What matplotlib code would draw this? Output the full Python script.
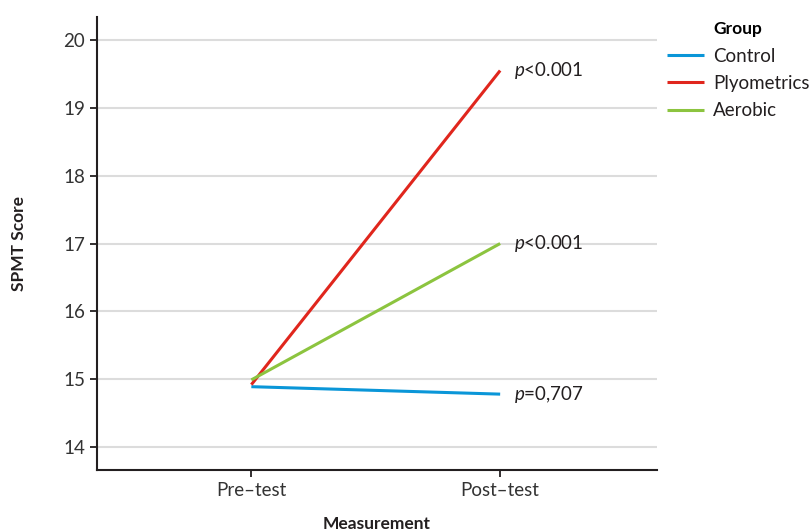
import matplotlib
matplotlib.use("Agg")
import matplotlib.pyplot as plt

plt.rcParams['font.family'] = ['Lato', 'DejaVu Sans']
plt.rcParams['mathtext.fontset'] = 'custom'
plt.rcParams['mathtext.rm'] = 'Lato'
plt.rcParams['mathtext.it'] = 'Lato:italic'

measurements = ["Pre\u2013test", "Post\u2013test"]
groups = ["Control", "Plyometrics", "Aerobic"]
control = [14.89, 14.78]
plyometrics = [14.92, 19.55]
aerobic = [14.99, 17.0]
p_labels = ["$p$=0,707", "$p$<0.001", "$p$<0.001"]
y_ticks = [14, 15, 16, 17, 18, 19, 20]

colors = ["#0a96d8", "#e0261d", "#8cc43f"]
series = [control, plyometrics, aerobic]

fig = plt.figure(figsize=(8.09, 5.30), dpi=100)
ax = fig.add_axes([0.12, 0.113, 0.692, 0.855])

x = list(range(len(measurements)))
for vals, c, name in zip(series, colors, groups):
    ax.plot(x, vals, color=c, lw=2.2, label=name, solid_capstyle='butt')

for vals, lab in zip(series, p_labels):
    ax.annotate(lab, (x[-1], vals[-1]), xytext=(10, 0), textcoords='offset points',
                va='center', ha='left', fontsize=13.5, color='#231f20')

ax.set_xlim(-0.62, 1.63)
ax.set_ylim(13.66, 20.34)
ax.set_xticks(x)
ax.set_xticklabels(measurements)
ax.set_yticks(y_ticks)
ax.yaxis.grid(True, color='#dcdcdc', lw=1.5)
ax.set_axisbelow(True)
for s in ['top', 'right']:
    ax.spines[s].set_visible(False)
for s in ['left', 'bottom']:
    ax.spines[s].set_color('#231f20')
    ax.spines[s].set_linewidth(1.5)
ax.tick_params(axis='both', colors='#231f20', labelcolor='#333333', labelsize=13.5,
               width=1.3, length=5)
ax.set_ylabel("SPMT Score", fontsize=12.5, fontweight='bold', color='#231f20', labelpad=26)
ax.set_xlabel("Measurement", fontsize=12.5, fontweight='bold', color='#231f20', labelpad=12)

leg = ax.legend(title="Group", loc='upper left', bbox_to_anchor=(0.815, 0.974),
                bbox_transform=fig.transFigure, frameon=False, fontsize=13.5,
                handlelength=2.0, handletextpad=0.45, labelspacing=0.55, borderaxespad=0)
leg.get_title().set_fontweight('bold')
leg.get_title().set_fontsize(12.5)
for t in leg.get_texts():
    t.set_color('#231f20')

fig.savefig("out.png", dpi=100)
